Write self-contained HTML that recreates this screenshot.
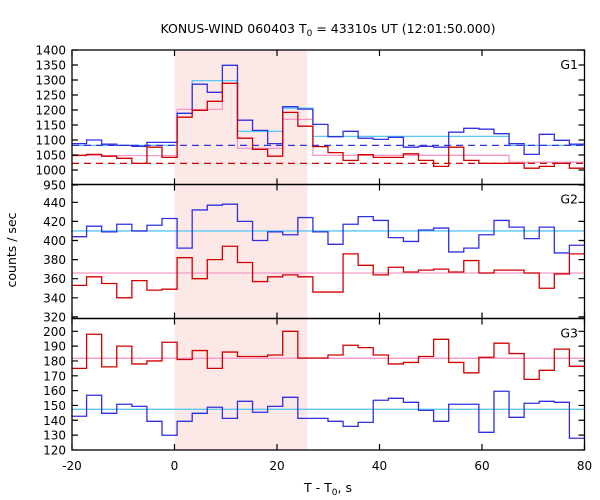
<!DOCTYPE html>
<html><head><meta charset="utf-8"><style>
body{margin:0;background:#fff}
svg{display:block;font-family:"DejaVu Sans","Liberation Sans",sans-serif}
</style></head><body>
<svg id="chart" width="600" height="500" viewBox="0 0 600 500">
<text x="328" y="33" font-size="12.5" text-anchor="middle">KONUS-WIND 060403 T<tspan font-size="9" dy="3">0</tspan><tspan dy="-3"> = 43310s UT (12:01:50.000)</tspan></text>
<text x="328" y="492" font-size="12.5" text-anchor="middle">T - T<tspan font-size="9" dy="3">0</tspan><tspan dy="-3">, s</tspan></text>
<text x="16" y="250" font-size="12.5" text-anchor="middle" transform="rotate(-90 16 250)">counts / sec</text>
<g id="plot"></g>
</svg>
<script>
const xTicks=[-20,0,20,40,60,80];
const binStart=-20.1, binWidth=2.944;
const shadeRange=[0,25.9];
// G1
const g1Blue=[1088,1100,1086,1082,1079,1092,1092,1189,1286,1259,1349,1166,1132,1088,1211,1203,1152,1111,1129,1106,1102,1109,1076,1079,1076,1126,1139,1136,1121,1088,1052,1119,1099,1086];
const g1Red=[1049,1052,1046,1039,1022,1076,1042,1176,1199,1229,1289,1106,1069,1046,1192,1146,1078,1058,1032,1051,1042,1042,1054,1032,1012,1076,1032,1022,1022,1022,1006,1012,1022,1006];
const g1CyanEdges=[0,7,8,11,14,16,29,34];
const g1CyanVals=[1082,1189,1298,1129,1206,1112,1082];
const g1PinkEdges=[0,7,10,11,14,16,29,34];
const g1PinkVals=[1048,1202,1289,1072,1169,1049,1026];
const g1BlueBg=1082, g1RedBg=1022;
const g1Ticks=[1400,1350,1300,1250,1200,1150,1100,1050,1000,950];
// G2
const g2Blue=[404,415,409,417,410,416,423,392,432,437,438,420,400,409,406,424,409,396,417,425,421,403,399,411,413,388,392,406,421,414,402,414,387,395];
const g2Red=[353,362,355,340,358,348,349,382,360,380,394,377,357,362,364,362,346,346,386,374,364,372,367,369,370,367,379,366,369,369,366,350,365,386];
const g2BlueBg=410, g2RedBg=366;
const g2Ticks=[440,420,400,380,360,340,320];
// G3
const g3Red=[175,198,176,190,178,180,192.6,181,187,175,186,183,183,184,200,182,182,184,190.6,189,184,178,179,183,194.6,179,172,182.5,192,185,167.6,173.7,188,176.4];
const g3Blue=[142.7,156.9,144.7,150.8,149.4,139.3,129.9,139.3,144.7,148.8,141.3,152.8,145.4,149.4,155.5,141.3,141.3,139.3,135.9,138.6,153.5,154.8,152.1,146.7,139.3,150.8,150.8,131.9,159.6,142,151.5,152.8,152.1,127.9];
const g3RedBg=181.8, g3BlueBg=147.4;
const g3Ticks=[200,190,180,170,160,150,140,130,120];

const NS="http://www.w3.org/2000/svg";
const L=72,R=584.5;
const X=t=>L+(t+20)*(R-L)/100;
const plot=document.getElementById('plot');
function mk(tag,attrs,parent){const e=document.createElementNS(NS,tag);for(const k in attrs)e.setAttribute(k,attrs[k]);(parent||plot).appendChild(e);return e;}
const panels=[
 {name:'g1',top:50,bot:184.5,min:950,max:1400,ticks:g1Ticks,label:'G1'},
 {name:'g2',top:184.5,bot:318.5,min:318,max:458,ticks:g2Ticks,label:'G2'},
 {name:'g3',top:318.5,bot:450,min:119.5,max:208,ticks:g3Ticks,label:'G3'}];
// panel y scales: fit from readings
panels[0].Y=v=>50+(1400-v)*0.3;
panels[1].Y=v=>202.3+(440-v)*0.955;
panels[2].Y=v=>331.3+(200-v)*1.483;
// clip
const defs=mk('defs',{});
const cp=mk('clipPath',{id:'pc'},defs);mk('rect',{x:L,y:50,width:R-L,height:400},cp);
// shade
const sh=mk('rect',{x:X(shadeRange[0]),y:50,width:X(shadeRange[1])-X(shadeRange[0]),height:400,fill:'#fde8e8'});


function stepPath(vals,Y){let d='';vals.forEach((v,i)=>{const x0=X(binStart+i*binWidth),x1=X(binStart+(i+1)*binWidth),y=Y(v);d+=(i?'L':'M')+x0+','+y+'L'+x1+','+y;});return d;}
function stepEdges(edges,vals,Y){let d='';vals.forEach((v,i)=>{const x0=X(binStart+edges[i]*binWidth),x1=X(binStart+edges[i+1]*binWidth),y=Y(v);d+=(i?'L':'M')+x0+','+y+'L'+x1+','+y;});return d;}
function line(name,d,color,dash){const p=mk('path',{d:d,fill:'none',stroke:color,'stroke-width':1.3,'clip-path':'url(#pc)'});if(dash)p.setAttribute('stroke-dasharray',dash);return p;}
function hline(name,v,Y,color,dash){return line(name,'M'+L+','+Y(v)+'L'+R+','+Y(v),color,dash);}
const P1=panels[0],P2=panels[1],P3=panels[2];
// G1
line('g1-cyan-steps',stepEdges(g1CyanEdges,g1CyanVals,P1.Y),'#5cc8f5');
line('g1-pink-steps',stepEdges(g1PinkEdges,g1PinkVals,P1.Y),'#f59ac8');
hline('g1-blue-background',g1BlueBg,P1.Y,'#3030e0','7,5');
hline('g1-red-background',g1RedBg,P1.Y,'#d00000','7,5');
line('g1-blue-series',stepPath(g1Blue,P1.Y),'#3030e0');
line('g1-red-series',stepPath(g1Red,P1.Y),'#d00000');
// G2
hline('g2-blue-background',g2BlueBg,P2.Y,'#5cc8f5');
hline('g2-red-background',g2RedBg,P2.Y,'#f59ac8');
line('g2-blue-series',stepPath(g2Blue,P2.Y),'#3030e0');
line('g2-red-series',stepPath(g2Red,P2.Y),'#d00000');
// G3
hline('g3-red-background',g3RedBg,P3.Y,'#f59ac8');
hline('g3-blue-background',g3BlueBg,P3.Y,'#5cc8f5');
line('g3-red-series',stepPath(g3Red,P3.Y),'#d00000');
line('g3-blue-series',stepPath(g3Blue,P3.Y),'#3030e0');
// frames, ticks
panels.forEach(p=>{
 const fr=mk('rect',{x:L,y:p.top,width:R-L,height:p.bot-p.top,fill:'none',stroke:'#000','stroke-width':1.3});
 
 
 p.ticks.forEach((v,i)=>{const y=p.Y(v);
  if(!(p.name!=='g1'&&i===0&&false)){mk('path',{d:'M'+L+','+y+'h6M'+R+','+y+'h-6',stroke:'#000','stroke-width':1.2});}
  if(p.name==='g1'||i>0||true){const t=mk('text',{x:L-6,y:y+4.5,'font-size':12,'text-anchor':'end'});t.textContent=v;
  
  }
 });
 xTicks.forEach(t=>{const x=X(t);mk('path',{d:'M'+x+','+p.top+'v6M'+x+','+p.bot+'v-6',stroke:'#000','stroke-width':1.2});});
 const lb=mk('text',{x:578,y:p.top+19,'font-size':12.5,'text-anchor':'end'});lb.textContent=p.label;
 
 
});
xTicks.forEach(t=>{const tx=mk('text',{x:X(t),y:470,'font-size':12,'text-anchor':'middle'});tx.textContent=t;
 
 });
</script>
</body></html>
